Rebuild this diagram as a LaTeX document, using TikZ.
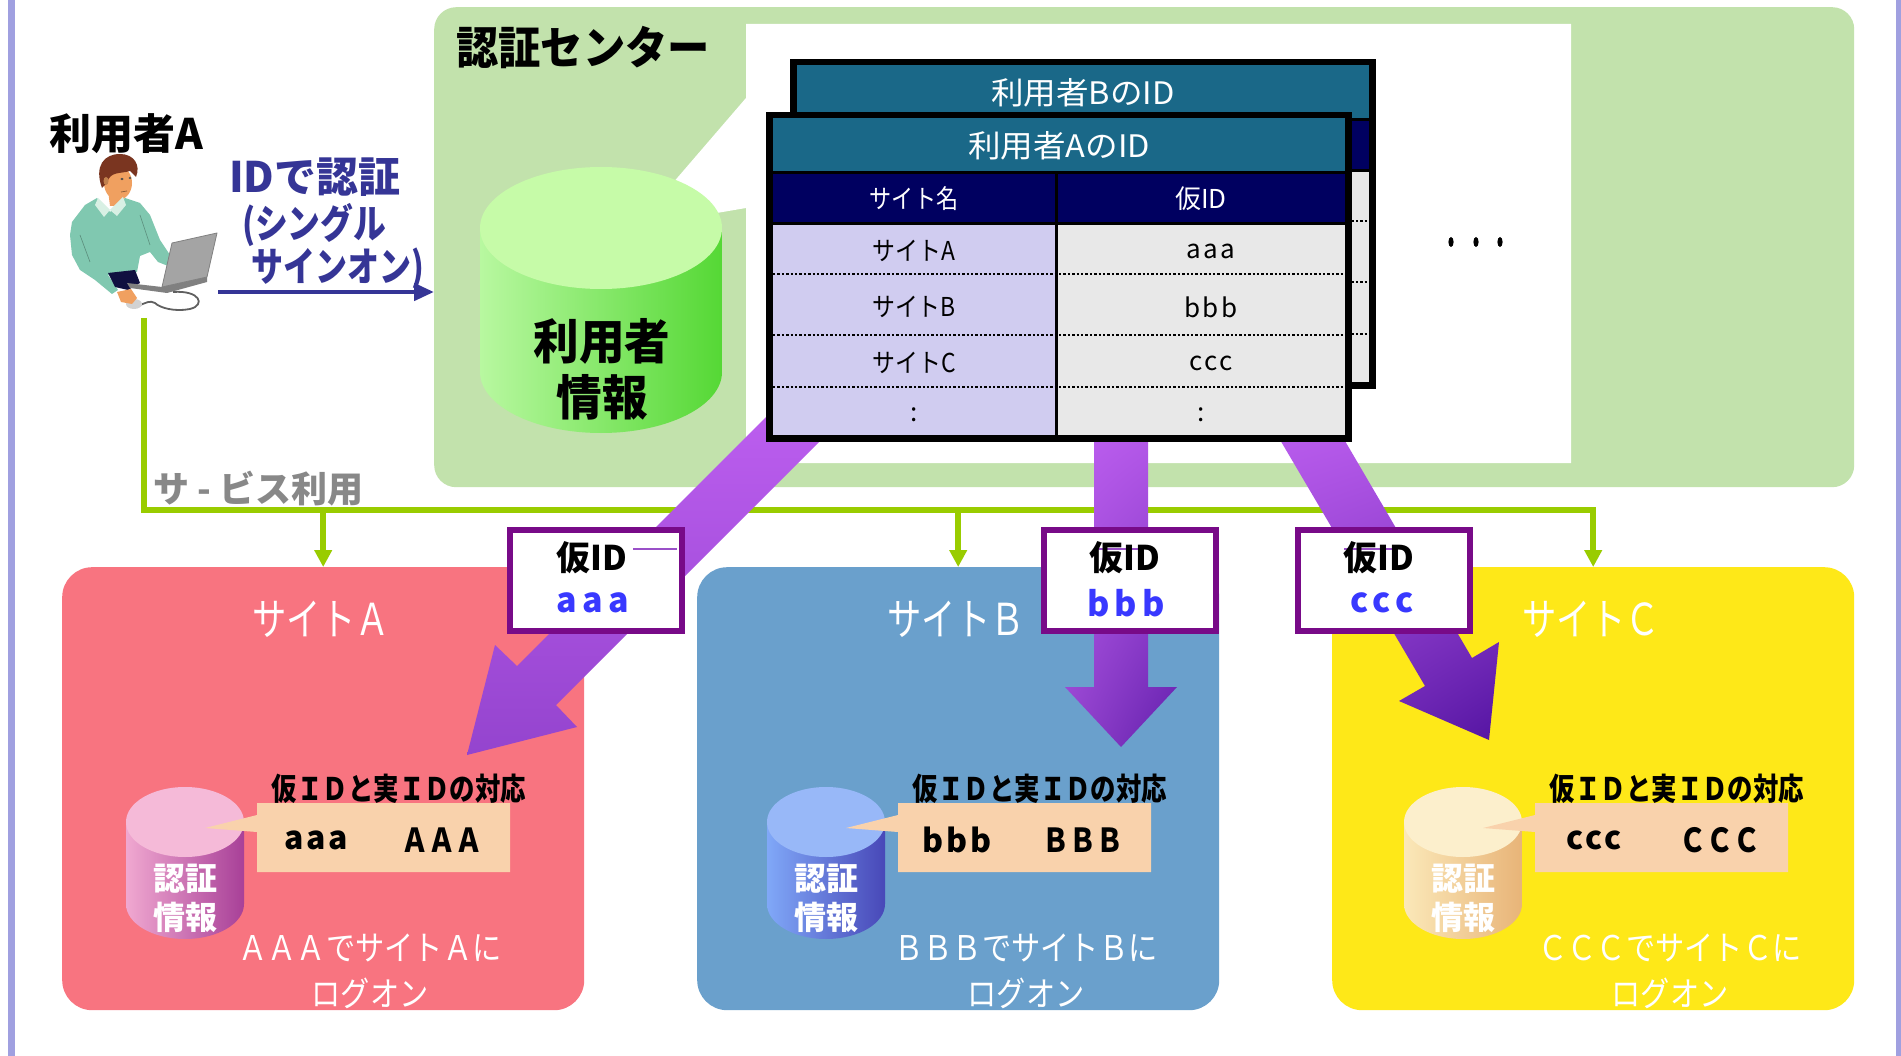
\documentclass[tikz,border=0pt]{standalone}
\usepackage{fontspec}
\setmainfont{Noto Sans CJK JP}
\usepackage{graphicx}
\usetikzlibrary{arrows.meta,shadings}

% palette
\definecolor{frameline}{HTML}{A0A0E0}
\definecolor{cbox}{HTML}{C2E2AC}
\definecolor{siteAc}{HTML}{F87480}
\definecolor{siteBc}{HTML}{6AA0CC}
\definecolor{siteCc}{HTML}{FEE818}
\definecolor{peach}{HTML}{F9D2AC}
\definecolor{idborder}{HTML}{780A88}
\definecolor{idblue}{HTML}{3838FF}
\definecolor{idthin}{HTML}{9A50C8}
\definecolor{ssoblue}{HTML}{353596}
\definecolor{lineg}{HTML}{99CC00}
\definecolor{svcgray}{HTML}{888888}
\definecolor{thead}{HTML}{1A6888}
\definecolor{tnavy}{HTML}{000060}
\definecolor{tlav}{HTML}{D0CCF0}
\definecolor{tgray}{HTML}{E8E8E8}
\definecolor{cylGtop}{HTML}{C6FBA8}
\definecolor{cylGl}{HTML}{B8F8A0}
\definecolor{cylGr}{HTML}{55D835}
\definecolor{cylAtop}{HTML}{F5BAD8}
\definecolor{cylAl}{HTML}{F0A8D0}
\definecolor{cylAr}{HTML}{A84098}
\definecolor{cylBtop}{HTML}{98B8F8}
\definecolor{cylBl}{HTML}{80A8F8}
\definecolor{cylBr}{HTML}{4848B8}
\definecolor{cylCtop}{HTML}{FCEFCC}
\definecolor{cylCl}{HTML}{FBE8B8}
\definecolor{cylCr}{HTML}{E8B478}
\definecolor{hair}{HTML}{7A3520}
\definecolor{skin}{HTML}{F0A060}
\definecolor{collar}{HTML}{D8F0E4}
\definecolor{sweater}{HTML}{80C8B0}
\definecolor{pants}{HTML}{101040}
\definecolor{laptop}{HTML}{A4A4A4}
\definecolor{laptopdk}{HTML}{808080}
\definecolor{cablec}{HTML}{606060}
\definecolor{arLight}{HTML}{C262F4}
\definecolor{arMid}{HTML}{9444CE}
\definecolor{arDark}{HTML}{5414A2}

\newcommand\fsz[1]{\fontsize{#1}{#1}\selectfont}
\newcommand\sx[2]{\scalebox{#1}[1]{#2}}
\newcommand\lsp[2]{{\addfontfeature{LetterSpace=#1}#2}}

% database cylinder: cx, rx, top centre y, bottom centre y, ry, top, left, right colours
\newcommand\dbcyl[8]{%
  \shade[left color=#7,right color=#8]
    (#1-#2,#3) -- (#1-#2,#4)
    arc[start angle=180,end angle=0,x radius=#2,y radius=#5]
    -- (#1+#2,#3) -- cycle;
  \fill[#6] (#1,#3) ellipse[x radius=#2,y radius=#5];}

% cells of an ID table (front position; the back one is shifted)
\newcommand\idgrid{%
  \fill[black] (766,112) rectangle (1352,442);
  \fill[thead] (773,118) rectangle (1345,171);
  \fill[tnavy] (773,174) rectangle (1055,222);
  \fill[tnavy] (1058,174) rectangle (1345,222);
  \fill[tlav] (773,225) rectangle (1055,435);
  \fill[tgray] (1058,225) rectangle (1345,435);
  \foreach \yy in {274,335,387} \draw[tdots] (773,\yy) -- (1345,\yy);}

% one service site: name, box left x, interior shift, fill, cylinder colour key,
% lower-case letter, full-width capital, centre x of the bottom caption
\newcommand\sitepanel[8]{%
  \node[sitebox, fill=#4, anchor=north west] (#1box) at (#2,567) {};
  \node[lbl, font=\fsz{44}, text=white] (#1title) at (#2+259,619) {\sx{.78}{サイト#7}};
  \begin{scope}[shift={(#3,0)}]
    \dbcyl{185}{59}{822}{904}{35}{cyl#5top}{cyl#5l}{cyl#5r}
    \fill[peach] (257,803) -- (510,803) -- (510,872) -- (257,872)
      -- (257,832) -- (205,828) -- (257,815) -- cycle;
    \node[lbl, font=\fsz{31}\bfseries] (#1map) at (399,789) {\sx{.82}{仮ＩＤと実ＩＤの対応}};
    \node[lbl, font=\fsz{32}\bfseries] (#1tmp) at (316,840) {\lsp{8}{#6#6#6}};
    \node[lbl, font=\fsz{33}\bfseries] (#1real) at (442,840) {\sx{.82}{#7#7#7}};
    \node[lbl, font=\fsz{32}\bfseries, text=white] (#1auth) at (185,879) {認証};
    \node[lbl, font=\fsz{32}\bfseries, text=white] (#1info) at (185,917) {情報};
  \end{scope}
  \node[lbl, font=\fsz{34}, text=white] (#1log1) at (#8,948) {\sx{.86}{#7#7#7でサイト#7に}};
  \node[lbl, font=\fsz{34}, text=white] (#1log2) at (#8,993) {\sx{.86}{ログオン}};}

\begin{document}
\begin{tikzpicture}[x=1pt,y=-1pt,
  lbl/.style={inner sep=0pt, outer sep=0pt, align=center},
  sitebox/.style={inner sep=0pt, minimum width=522, minimum height=443, rounded corners=30pt},
  gline/.style={draw=lineg, line width=6pt, -{Triangle[length=17pt,width=17pt]}},
  ssoarrow/.style={draw=ssoblue, line width=4.5pt, -{Triangle[length=20pt,width=17pt]}},
  tdots/.style={line width=2.4pt, dash pattern=on 2.4pt off 2pt},
  idbox/.style={draw=idborder, line width=6pt, fill=white, inner sep=0pt,
    minimum width=172, minimum height=101, anchor=north west},
  idthinline/.style={draw=idthin, line width=1.1pt},
]
\useasboundingbox (0,0) rectangle (1901,1056);
\fill[white] (0,0) rectangle (1901,1056);
\fill[frameline] (8,0) rectangle (15,1056);
\fill[frameline] (1896,0) rectangle (1901,1056);

% ---------- authentication centre ----------
\node[inner sep=0pt, fill=cbox, rounded corners=22pt, minimum width=1420, minimum height=480,
  anchor=north west] (center) at (434,7) {};
\node[lbl, font=\fsz{45}\bfseries] (cTitle) at (583,48) {\sx{.94}{認証センター}};
\fill[white] (746,24) -- (1571,24) -- (1571,463) -- (746,463) -- (746,208)
  -- (635,227) -- (746,98) -- cycle;
\dbcyl{601}{121}{228}{372}{61}{cylGtop}{cylGl}{cylGr}
\node[lbl, font=\fsz{48}\bfseries] (uinfo1) at (602,341) {\sx{.95}{利用者}};
\node[lbl, font=\fsz{48}\bfseries] (uinfo2) at (602,397) {\sx{.95}{情報}};

% ---------- user at a laptop ----------
\begin{scope}[line join=round]
  \fill[sweater] (72,222) -- (85,205) -- (97,198) -- (110,212) -- (125,198) -- (140,203)
    -- (150,215) -- (160,240) -- (172,258) -- (168,266) -- (158,262) -- (150,252)
    -- (140,256) -- (137,272) -- (108,275) -- (118,290) -- (112,294) -- (95,280)
    -- (80,270) -- (72,255) -- (70,235) -- cycle;
  \draw[sweater!70!black, line width=0.6pt] (80,235) -- (90,262);
  \draw[sweater!70!black, line width=0.6pt] (140,215) -- (150,245);
  \fill[pants] (108,273) -- (135,270) -- (140,283) -- (128,290) -- (115,287) -- cycle;
  \fill[skin] (108,190) -- (125,190) -- (123,206) -- (110,206) -- cycle;
  \fill[skin] (118,183) ellipse[x radius=14, y radius=17];
  \fill[hair] (102,188) .. controls (94,166) and (104,154) .. (120,154)
    .. controls (134,154) and (141,165) .. (136,177) -- (130,171)
    .. controls (120,174) and (110,171) .. (107,183) -- cycle;
  \fill[skin!80!black] (106,181) ellipse[x radius=2.5, y radius=4];
  \fill[black!70] (122,179) ellipse[x radius=1.6, y radius=1.2];
  \fill[black!70] (130,178) ellipse[x radius=1.4, y radius=1.1];
  \draw[skin!60!black, line width=0.8pt] (121,192) -- (127,191);
  \fill[collar] (98,198) -- (110,210) -- (123,197) -- (126,205) -- (117,216)
    -- (110,210) -- (104,217) -- (95,205) -- cycle;
  \fill[laptop, draw=laptopdk, line width=0.8pt] (172,243) -- (217,233) -- (207,277) -- (162,287) -- cycle;
  \fill[laptopdk] (127,283) -- (162,287) -- (207,277) -- (207,282) -- (167,293) -- (130,288) -- cycle;
  \draw[cablec, line width=1.8pt] (173,292) .. controls (200,290) and (206,305) .. (190,309)
    .. controls (175,312) and (160,308) .. (155,303) .. controls (150,300) and (146,303) .. (140,305);
  \fill[gray!35] (134,304) ellipse[x radius=8, y radius=5];
  \fill[skin] (117,292) -- (131,289) -- (137,298) -- (132,304) -- (121,302) -- cycle;
\end{scope}
\node[lbl, font=\fsz{42}\bfseries] (userA) at (126,134) {利用者A};

% single sign-on request
\coordinate (ssoS) at (218,292);
\draw[ssoarrow] (ssoS) -- (ssoS -| center.west);
\node[lbl, font=\fsz{42}\bfseries, text=ssoblue, anchor=west] (sso1) at (229,177) {IDで認証};
\node[lbl, font=\fsz{40}\bfseries, text=ssoblue, anchor=west] (sso2) at (242,225) {\sx{.82}{(シングル}};
\node[lbl, font=\fsz{40}\bfseries, text=ssoblue, anchor=west] (sso3) at (251,269) {\sx{.8}{サインオン)}};

% ---------- service sites ----------
\sitepanel{siteA}{62}{0}{siteAc}{A}{a}{Ａ}{370}
\sitepanel{siteB}{697}{641}{siteBc}{B}{b}{Ｂ}{1026}
\sitepanel{siteC}{1332}{1278}{siteCc}{C}{c}{Ｃ}{1670}

% service use by the user
\coordinate (pc) at (144,318);
\coordinate (bus) at (144,510);
\draw[gline] (pc) -- (bus) -- (bus -| siteCbox.north) -- (siteCbox.north);
\draw[gline] (bus -| siteAbox.north) -- (siteAbox.north);
\draw[gline] (bus -| siteBbox.north) -- (siteBbox.north);
\node[lbl, font=\fsz{36}\bfseries, text=svcgray, anchor=west] (svc) at (153,489) {サ - ビス利用};

% ---------- temporary IDs handed to each site ----------
\shade[top color=arLight!90!arMid, bottom color=arMid]
  (785,398) -- (824,437) -- (556,705) -- (577,727) -- (467,755) -- (495,645) -- (517,666) -- cycle;
\shade[upper left=arLight, upper right=arLight!80!arMid, lower left=arMid, lower right=arDark!80!arMid]
  (1094,400) -- (1148,400) -- (1148,687) -- (1177,687) -- (1121,747) -- (1065,687) -- (1094,687) -- cycle;
\shade[upper left=arLight, upper right=arLight!85!arMid, lower left=arMid!70!arDark, lower right=arDark]
  (1266,416) -- (1425,686) -- (1399,701) -- (1489,740) -- (1499,642) -- (1472,658) -- (1314,388) -- cycle;

% ---------- ID tables ----------
\begin{scope}[shift={(24,-53)}]
  \idgrid
\end{scope}
\node[lbl, font=\fsz{31}, text=white] (hdrB) at (1083,93) {\sx{1.05}{利用者BのID}};
\idgrid
\node[lbl, font=\fsz{31}, text=white] (hdrA) at (1059,146) {\sx{1.05}{利用者AのID}};
\node[lbl, font=\fsz{26}, text=white] (colSite) at (914,199) {\sx{.85}{サイト名}};
\node[lbl, font=\fsz{26}, text=white] (colTmp) at (1201,199) {仮ID};
\node[lbl, font=\fsz{26}] (rA1) at (914,251) {\sx{.88}{サイトA}};
\node[lbl, font=\fsz{26}] (rA2) at (1211,251) {\lsp{8}{aaa}};
\node[lbl, font=\fsz{26}] (rB1) at (914,307) {\sx{.88}{サイトB}};
\node[lbl, font=\fsz{26}] (rB2) at (1211,307) {\lsp{8}{bbb}};
\node[lbl, font=\fsz{26}] (rC1) at (914,363) {\sx{.88}{サイトC}};
\node[lbl, font=\fsz{26}] (rC2) at (1211,363) {\lsp{8}{ccc}};
\node[lbl, font=\fsz{26}] (rD1) at (914,415) {:};
\node[lbl, font=\fsz{26}] (rD2) at (1201,415) {:};
\foreach \dx in {1451,1476,1500} \fill (\dx,242) ellipse[x radius=2.6, y radius=5];

% ---------- temporary ID labels ----------
\node[idbox] (tmpA) at (507,527) {};
\node[idbox] (tmpB) at (1041,527) {};
\node[idbox] (tmpC) at (1295,527) {};
\draw[idthinline] (633,549) -- (677,549);
\draw[idthinline] (1094,549) -- (1141,549);
\draw[idthinline] (1344,549) -- (1397,549);
\node[lbl, font=\fsz{34}\bfseries] (tmpAl) at (592,558) {仮ID};
\node[lbl, font=\fsz{34}\bfseries, text=idblue] (tmpAv) at (593,603) {\lsp{16}{aaa}};
\node[lbl, font=\fsz{34}\bfseries] (tmpBl) at (1125,558) {仮ID};
\node[lbl, font=\fsz{34}\bfseries, text=idblue] (tmpBv) at (1126,603) {\lsp{16}{bbb}};
\node[lbl, font=\fsz{34}\bfseries] (tmpCl) at (1379,558) {仮ID};
\node[lbl, font=\fsz{34}\bfseries, text=idblue] (tmpCv) at (1382,603) {\lsp{16}{ccc}};
\end{tikzpicture}
\end{document}
